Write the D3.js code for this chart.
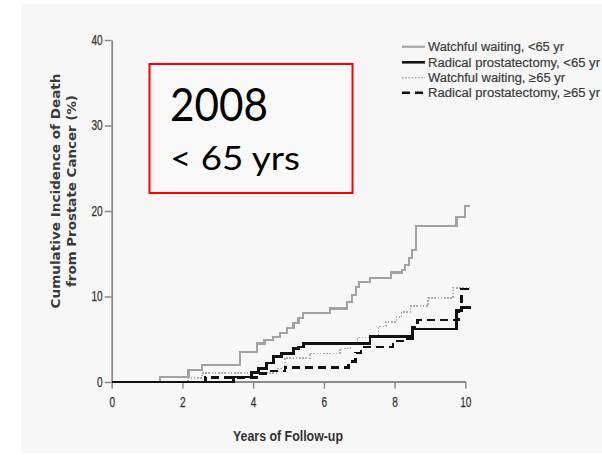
<!DOCTYPE html>
<html>
<head>
<meta charset="utf-8">
<script src="https://cdn.jsdelivr.net/npm/d3@7/dist/d3.min.js"></script>
<style>
  html, body { margin: 0; padding: 0; background: #ffffff; }
  svg { display: block; }
  .narrow { font-family: 'Liberation Sans Narrow', 'Liberation Sans', Arial, sans-serif; font-stretch: condensed; }
</style>
</head>
<body>
<svg id="chart" width="602" height="455"></svg>
<script>
// Cumulative incidence of prostate-cancer death, step curves: [years, percent]
const wwYoung = [[0,0],[1.37,0.6],[2.17,1.4],[2.55,2.0],[3.63,3.55],[4.1,4.5],[4.32,4.9],[4.57,5.3],[4.76,5.7],
  [4.95,6.3],[5.14,6.9],[5.28,7.45],[5.42,8.1],[6.17,8.6],[6.65,9.4],[6.8,10.2],[6.9,11.1],[7.0,11.7],
  [7.3,12.2],[7.9,12.8],[8.2,13.1],[8.3,13.7],[8.4,14.5],[8.5,15.4],[8.6,18.2],[9.75,19.3],[10.0,20.6],[10.12,20.6]];
const rpYoung = [[0,0],[3.45,0.6],[3.95,1.1],[4.15,1.6],[4.38,2.2],[4.57,3.0],[4.8,3.35],[5.14,3.9],[5.28,4.1],
  [5.42,4.5],[7.3,5.3],[8.5,6.2],[9.75,8.4],[9.9,8.7],[10.15,8.7]];
const wwOld = [[0,0],[2.15,0.5],[2.55,1.05],[4.7,1.6],[4.9,2.8],[5.6,3.35],[6.45,3.9],[6.75,4.5],[6.95,5.2],
  [7.55,6.5],[7.75,7.0],[8.05,7.6],[8.2,8.2],[8.45,8.9],[8.95,9.8],[9.65,11.0],[10.15,11.0]];
const rpOld = [[0,0],[2.65,0.55],[4.1,1.0],[4.45,1.3],[4.9,1.7],[6.7,2.4],[6.9,3.4],[7.05,4.1],[7.95,4.8],
  [8.3,5.1],[8.5,6.4],[8.65,7.25],[9.8,8.3],[9.9,10.9],[10.15,10.9]];

const xTicks = [0, 2, 4, 6, 8, 10];
const yTicks = [0, 10, 20, 30, 40];
const legendLabels = ["Watchful waiting, <65 yr", "Radical prostatectomy, <65 yr",
                      "Watchful waiting, \u226565 yr", "Radical prostatectomy, \u226565 yr"];
const legendWidths = [136, 172, 137, 172];
const titleLines = ["Cumulative Incidence of Death", "from Prostate Cancer (%)"];
const boxLines = ["2008", "< 65 yrs"];

const svg = d3.select("#chart");

// light panel behind the figure
svg.append("rect").attr("x", 21).attr("y", 4).attr("width", 581).attr("height", 449).attr("fill", "#f7f7f7");

const x = d3.scaleLinear().domain([0, 10]).range([111.7, 465.3]);
const y = d3.scaleLinear().domain([0, 40]).range([382, 40]);

// series styles
const series = [
  { data: wwYoung, color: "#a3a3a3", width: 2.2, dash: null },
  { data: wwOld,   color: "#acacac", width: 1.6, dash: "1.6,1.6" },
  { data: rpOld,   color: "#111111", width: 2.6, dash: "8,5" },
  { data: rpYoung, color: "#111111", width: 2.6, dash: null }
];

const line = d3.line().x(d => x(d[0])).y(d => y(d[1])).curve(d3.curveStepAfter);

// condensed look for the small labels: squeeze each text to a fraction of its natural width
function condense(sel, k) {
  sel.each(function () {
    const w = this.getComputedTextLength();
    d3.select(this).attr("textLength", w * k).attr("lengthAdjust", "spacingAndGlyphs");
  });
}

// axes
const axisColor = "#8c8c8c";
const gy = svg.append("g").attr("transform", `translate(${x(0)},0)`)
  .call(d3.axisLeft(y).tickValues(yTicks).tickSize(7).tickSizeOuter(0).tickPadding(2));
const gx = svg.append("g").attr("transform", `translate(0,${y(0) - 0.5})`)
  .call(d3.axisBottom(x).tickValues(xTicks).tickSize(7).tickSizeOuter(0).tickPadding(8.5));
[gx, gy].forEach(g => {
  g.select(".domain").attr("stroke", axisColor).attr("stroke-width", 1.8);
  g.selectAll(".tick line").attr("stroke", axisColor).attr("stroke-width", 1.5);
  g.selectAll(".tick text").attr("class", "narrow").attr("fill", "#333")
    .attr("font-size", 14).attr("stroke", "#333").attr("stroke-width", 0.25);
  condense(g.selectAll(".tick text"), 0.72);
});

// curves
svg.append("g").selectAll("path").data(series).join("path")
  .attr("d", s => line(s.data))
  .attr("fill", "none")
  .attr("stroke", s => s.color)
  .attr("stroke-width", s => s.width)
  .attr("stroke-dasharray", s => s.dash)
  .attr("shape-rendering", "crispEdges");

// axis titles
svg.append("text").attr("class", "narrow")
  .attr("x", 288).attr("y", 440.5).attr("text-anchor", "middle")
  .attr("font-size", 14).attr("font-weight", "bold").attr("fill", "#333")
  .attr("textLength", 110).attr("lengthAdjust", "spacingAndGlyphs")
  .text("Years of Follow-up");

const yTitle = svg.append("g").attr("transform", "translate(0,191) rotate(-90)");
yTitle.selectAll("text").data(titleLines).join("text")
  .attr("x", 0).attr("y", (d, i) => 59.5 + i * 16.7)
  .attr("text-anchor", "middle")
  .attr("font-family", "'DejaVu Sans', Verdana, sans-serif")
  .attr("font-size", 12.5).attr("font-weight", "bold").attr("fill", "#3a3a3a")
  .attr("textLength", (d, i) => i === 0 ? 235 : 192).attr("lengthAdjust", "spacingAndGlyphs")
  .text(d => d);

// legend
const legendRows = [46.7, 62.3, 77.7, 92.7];
const leg = svg.append("g");
const legendSeries = [series[0], series[3], series[1], series[2]];
legendSeries.forEach((s, i) => {
  leg.append("line")
    .attr("x1", 402).attr("x2", 425).attr("y1", legendRows[i]).attr("y2", legendRows[i])
    .attr("stroke", s.color).attr("stroke-width", s.width).attr("stroke-dasharray", s.dash);
  leg.append("text").attr("class", "narrow")
    .attr("x", 428).attr("y", legendRows[i] + 4.2)
    .attr("font-size", 12.5).attr("fill", "#3c3c3c")
    .attr("stroke", "#3c3c3c").attr("stroke-width", 0.2)
    .attr("textLength", legendWidths[i]).attr("lengthAdjust", "spacingAndGlyphs")
    .text(legendLabels[i]);
});

// year / age group callout
svg.append("rect").attr("x", 149.5).attr("y", 64).attr("width", 203).attr("height", 129)
  .attr("fill", "#f9f9f9").attr("stroke", "#ff0000").attr("stroke-width", 2);
svg.append("text").attr("x", 170).attr("y", 120.7)
  .attr("font-family", "Lato, 'Open Sans', sans-serif").attr("font-size", 47).attr("fill", "#000")
  .attr("textLength", 98).attr("lengthAdjust", "spacingAndGlyphs")
  .text(boxLines[0]);
svg.append("text").attr("x", 170).attr("y", 169.7)
  .attr("font-family", "Lato, 'Open Sans', sans-serif").attr("font-size", 33.5).attr("fill", "#000")
  .attr("textLength", 130).attr("lengthAdjust", "spacingAndGlyphs")
  .text(boxLines[1]);
</script>
</body>
</html>
